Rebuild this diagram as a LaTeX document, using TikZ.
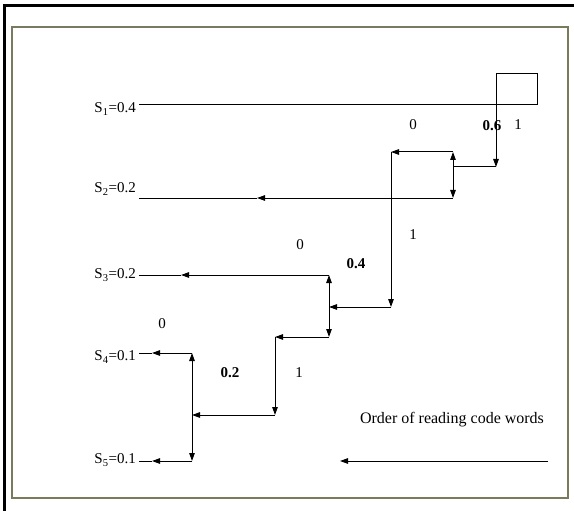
\documentclass[tikz,border=0pt]{standalone}
\usepackage{fontspec}
\setmainfont{Liberation Serif}
\usetikzlibrary{positioning, arrows.meta}

\definecolor{frameolive}{RGB}{122,122,92}

\begin{document}
\begin{tikzpicture}[
    x=1pt, y=-1pt,
    prob/.style={anchor=east, inner sep=0pt, font=\fontsize{15}{17}\selectfont},
    digit/.style={inner sep=0pt, font=\fontsize{15}{17}\selectfont},
    bolddigit/.style={inner sep=0pt, font=\fontsize{15}{17}\selectfont\bfseries},
    wire/.style={line width=1pt},
    flow/.style={wire, -{Triangle[length=8pt, width=5.5pt]}},
    twoway/.style={wire, {Triangle[length=8pt, width=5.5pt]}-{Triangle[length=8pt, width=5.5pt]}}
]
\useasboundingbox (0,0) rectangle (574,511);

% Frames
\draw[line width=3pt] (4,511) -- (4,6) -- (574,6);
\draw[frameolive, line width=1.5pt] (12,27) rectangle (568,498);

% Symbols
\node[prob] (s1) at (136,109) {S\textsubscript{1}=0.4};
\node[prob] (s2) at (136,189) {S\textsubscript{2}=0.2};
\node[prob] (s3) at (136,275) {S\textsubscript{3}=0.2};
\node[prob] (s4) at (136,357) {S\textsubscript{4}=0.1};
\node[prob] (s5) at (136,460) {S\textsubscript{5}=0.1};

% Corner points
\coordinate (a1) at (139,105);
\coordinate (b1) at (537,105);
\coordinate (top) at (496,105);
\coordinate (p1) at (496,167);
\coordinate (q1) at (453,167);
\coordinate (q1up) at (453,152);
\coordinate (q1dn) at (453,198);
\coordinate (r1) at (391,152);
\coordinate (r2) at (391,307);
\coordinate (a2) at (139,198);
\coordinate (m2) at (257,198);
\coordinate (q2) at (329,307);
\coordinate (q2up) at (329,275);
\coordinate (q2dn) at (329,337);
\coordinate (a3) at (139,275);
\coordinate (m3) at (181,275);
\coordinate (r3) at (275,337);
\coordinate (r4) at (275,415);
\coordinate (q3) at (192,415);
\coordinate (q3up) at (192,353);
\coordinate (q3dn) at (192,461);
\coordinate (a4) at (139,353);
\coordinate (m4) at (152,353);
\coordinate (a5) at (139,461);
\coordinate (m5) at (152,461);
\coordinate (ordR) at (548,461);
\coordinate (ordL) at (340,461);

% Probability line and box
\draw[wire] (a1) -- (b1);
\draw[wire] (top) rectangle (537,74);

% Edges
\draw[flow] (top) -- (p1);
\draw[wire] (p1) -- (q1);
\draw[twoway] (q1up) -- (q1dn);
\draw[flow] (q1up) -- (r1);
\draw[flow] (r1) -- (r2);
\draw[flow] (q1dn) -- (m2);
\draw[wire] (m2) -- (a2);
\draw[flow] (r2) -- (q2);
\draw[twoway] (q2up) -- (q2dn);
\draw[flow] (q2up) -- (m3);
\draw[wire] (m3) -- (a3);
\draw[flow] (q2dn) -- (r3);
\draw[flow] (r3) -- (r4);
\draw[flow] (r4) -- (q3);
\draw[twoway] (q3up) -- (q3dn);
\draw[flow] (q3up) -- (m4);
\draw[wire] (m4) -- (a4);
\draw[flow] (q3dn) -- (m5);
\draw[wire] (m5) -- (a5);

% Code bits
\node[digit] (z1) at (413,125) {0};
\node[bolddigit] (w1) at (492,126) {0.6};
\node[digit] (o1) at (518,125) {1};
\node[digit] (o2) at (413,235) {1};
\node[digit] (z2) at (300,245) {0};
\node[bolddigit] (w2) at (356,264) {0.4};
\node[digit] (z3) at (162,324) {0};
\node[bolddigit] (w3) at (230,373) {0.2};
\node[digit] (o3) at (299,373) {1};

% Reading order
\node[font=\fontsize{16}{18}\selectfont] (order) at (452,420) {Order of reading code words};
\draw[flow] (ordR) -- (ordL);

\end{tikzpicture}
\end{document}
